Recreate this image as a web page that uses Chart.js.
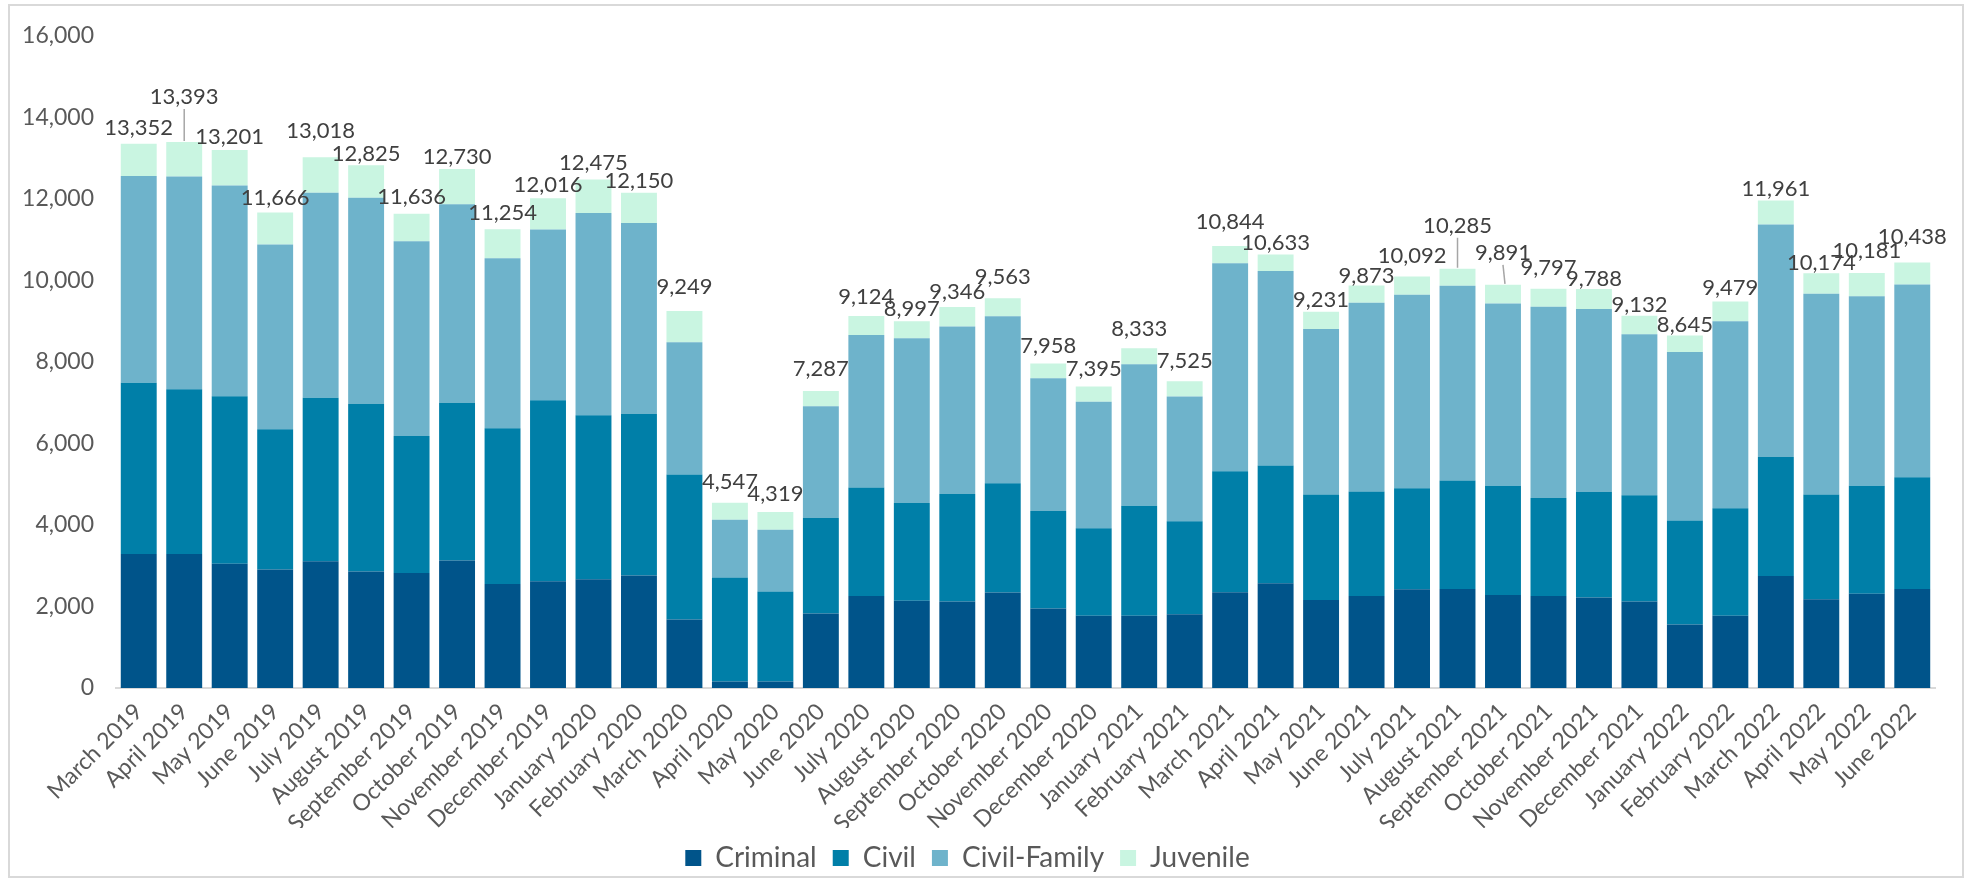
<!DOCTYPE html>
<html>
<head>
<meta charset="utf-8">
<script src="https://cdn.jsdelivr.net/npm/chart.js@4.4.0/dist/chart.umd.min.js"></script>
<style>
    html, body { margin: 0; padding: 0; background: #fff; }
    #wrap { width: 1971px; height: 882px; }
</style>
</head>
<body>
<div id="wrap"><canvas id="casesChart" width="1971" height="882"></canvas></div>
<script>
// months on the x axis
const months = [
    'March 2019', 'April 2019', 'May 2019', 'June 2019', 'July 2019', 'August 2019',
    'September 2019', 'October 2019', 'November 2019', 'December 2019',
    'January 2020', 'February 2020', 'March 2020', 'April 2020', 'May 2020', 'June 2020',
    'July 2020', 'August 2020', 'September 2020', 'October 2020', 'November 2020', 'December 2020',
    'January 2021', 'February 2021', 'March 2021', 'April 2021', 'May 2021', 'June 2021',
    'July 2021', 'August 2021', 'September 2021', 'October 2021', 'November 2021', 'December 2021',
    'January 2022', 'February 2022', 'March 2022', 'April 2022', 'May 2022', 'June 2022'
];

// case counts per type
const criminal = [3290, 3290, 3050, 2910, 3110, 2860, 2820, 3130, 2550, 2620,
    2670, 2760, 1680, 160, 160, 1830, 2260, 2140, 2120, 2340, 1950, 1770,
    1770, 1810, 2350, 2570, 2160, 2260, 2420, 2430, 2280, 2260, 2220, 2120,
    1560, 1770, 2750, 2180, 2310, 2430];
const civil = [4200, 4040, 4110, 3440, 4010, 4110, 3360, 3860, 3820, 4440,
    4020, 3960, 3560, 2550, 2210, 2340, 2660, 2400, 2640, 2680, 2390, 2150,
    2700, 2280, 2970, 2890, 2590, 2560, 2480, 2660, 2680, 2400, 2590, 2610,
    2550, 2640, 2920, 2570, 2650, 2740];
const civilFamily = [5070, 5220, 5170, 4530, 5030, 5060, 4780, 4880, 4170, 4190,
    4960, 4690, 3240, 1420, 1510, 2740, 3740, 4040, 4110, 4100, 3260, 3100,
    3470, 3060, 5100, 4770, 4060, 4630, 4750, 4780, 4470, 4690, 4490, 3950,
    4130, 4590, 5700, 4920, 4650, 4730];
const juvenile = [792, 843, 871, 786, 868, 795, 676, 860, 714, 766,
    825, 740, 769, 417, 439, 377, 464, 417, 476, 443, 358, 375,
    393, 375, 424, 403, 421, 423, 442, 415, 461, 447, 488, 452,
    405, 479, 591, 504, 571, 538];

const FONT = 'Lato, "Open Sans", sans-serif';

// grey frame round the whole chart
const framePlugin = {
    id: 'frame',
    beforeDraw(chart) {
        const c = chart.ctx;
        c.save();
        c.fillStyle = '#fff';
        c.fillRect(0, 0, chart.width, chart.height);
        c.strokeStyle = '#d9d9d9';
        c.lineWidth = 2;
        c.strokeRect(9, 5, 1954, 872);
        c.restore();
    }
};

// totals above each stack; label heights were nudged by hand in the original
const labelGap = [13, 42, 10, 12, 23, 8, 14, 9, 13, 10, 14, 9, 21, 18, 15, 19, 16, 9, 12, 18,
    15, 15, 16, 17, 21, 9, 9, 7, 18, 40, 29, 18, 7, 8, 8, 11, 9, 7, 19, 23];
const leaderLines = [1, 29, 30];

const totalsPlugin = {
    id: 'totals',
    afterDatasetsDraw(chart) {
        const c = chart.ctx;
        const top = chart.getDatasetMeta(chart.data.datasets.length - 1);
        c.save();
        c.font = '22px ' + FONT;
        c.fillStyle = '#404040';
        c.textAlign = 'center';
        c.textBaseline = 'middle';
        top.data.forEach((bar, i) => {
            const sum = chart.data.datasets.reduce((s, ds) => s + ds.data[i], 0);
            const y = bar.y - labelGap[i] - 3;
            c.fillText(sum.toLocaleString('en-US'), bar.x, y);
            if (leaderLines.includes(i)) {
                c.strokeStyle = '#a6a6a6';
                c.lineWidth = 1.5;
                c.beginPath();
                c.moveTo(bar.x, y + 12);
                c.lineTo(bar.x + (i === 30 ? 2 : 0), bar.y - 1);
                c.stroke();
            }
        });
        c.restore();
    }
};

const ctx = document.getElementById('casesChart').getContext('2d');

new Chart(ctx, {
    type: 'bar',
    data: {
        labels: months,
        datasets: [
            { label: 'Criminal', data: criminal, backgroundColor: '#00548a' },
            { label: 'Civil', data: civil, backgroundColor: '#007fa8' },
            { label: 'Civil-Family', data: civilFamily, backgroundColor: '#6eb3cb' },
            { label: 'Juvenile', data: juvenile, backgroundColor: '#c9f5e1' }
        ]
    },
    options: {
        responsive: false,
        animation: false,
        barPercentage: 0.79,
        categoryPercentage: 1,
        layout: {
            padding: { top: 20, right: 36, bottom: 0, left: 0 }
        },
        scales: {
            x: {
                stacked: true,
                grid: { display: false, drawTicks: false },
                border: { display: true, color: '#d9d9d9', width: 2 },
                ticks: {
                    autoSkip: false,
                    minRotation: 45,
                    maxRotation: 45,
                    padding: 10,
                    color: '#595959',
                    font: { family: FONT, size: 23 }
                },
                afterFit(scale) { scale.height = 140; }
            },
            y: {
                stacked: true,
                min: 0,
                max: 16000,
                grid: { display: false, drawTicks: false },
                border: { display: false },
                ticks: {
                    stepSize: 2000,
                    padding: 22,
                    color: '#595959',
                    font: { family: FONT, size: 23 },
                    callback: (v) => v.toLocaleString('en-US')
                },
                afterFit(scale) { scale.width = 116; }
            }
        },
        plugins: {
            legend: {
                position: 'bottom',
                labels: {
                    boxWidth: 16,
                    boxHeight: 16,
                    padding: 16,
                    color: '#595959',
                    font: { family: FONT, size: 28 }
                }
            },
            tooltip: { enabled: false }
        }
    },
    plugins: [framePlugin, totalsPlugin]
});
</script>
</body>
</html>
